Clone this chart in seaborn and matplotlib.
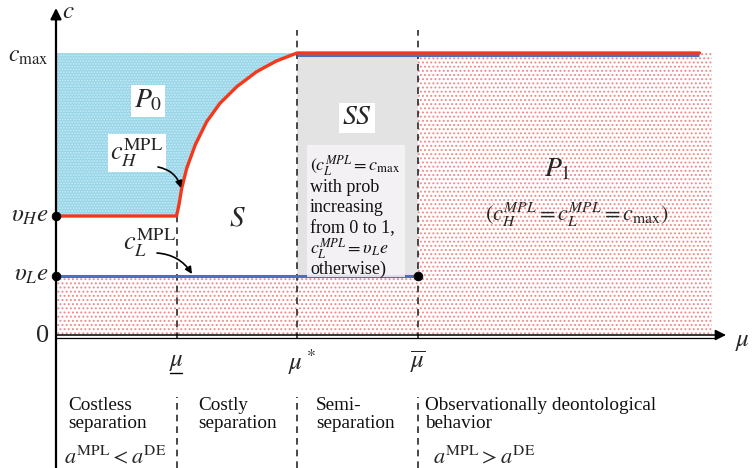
import matplotlib
matplotlib.use("Agg")
import matplotlib.pyplot as plt
import matplotlib.transforms as mtransforms
from matplotlib.patches import Rectangle
import seaborn as sns
import numpy as np

sns.set_theme(style="white")
plt.rcParams['font.family'] = ['Liberation Serif', 'DejaVu Serif']
plt.rcParams['mathtext.fontset'] = 'stix'
plt.rcParams['hatch.linewidth'] = 0.9

# ---------------- data ----------------
mu_thresholds = [1.0, 2.0, 3.0]          # mu_low, mu_star, mu_bar
mu_tick_labels = [r'$\mu$', r'$\mu^*$', r'$\overline{\mu}$']
vL_e = 0.212
vH_e = 0.424
c_max = 1.0
mu_line_end = 5.34
mu_region_end = 5.44
curve_mu = [1.0, 1.021, 1.043, 1.085, 1.155, 1.25, 1.36, 1.5, 1.665, 1.83, 2.0]
curve_c = [0.424, 0.465, 0.522, 0.593, 0.675, 0.757, 0.822, 0.881, 0.934, 0.972, 1.0]
dot_mu = [0.0, 0.0, 3.0]
dot_c = [vH_e, vL_e, vL_e]
regime_labels = ["Costless\nseparation", "Costly\nseparation", "Semi-\nseparation",
                 "Observationally deontological\nbehavior"]

RED = '#f4381c'
BLUE = '#4472c4'

# pixel -> data helper for layout
X0, Y0, SX, SY = 56.0, 336.0, 120.5, 283.0
def P(px, py):
    return ((px - X0) / SX, (Y0 - py) / SY)

fig = plt.figure(figsize=(7.53, 4.68), dpi=100)
ax = fig.add_axes([0, 0, 1, 1])
ax.set_xlim(-X0 / SX, (753 - X0) / SX)
ax.set_ylim((Y0 - 468) / SY, Y0 / SY)
ax.axis('off')

# ---------------- regions ----------------
p0_x = [0.0] + curve_mu
p0_lo = [vH_e] + curve_c
ax.fill_between(p0_x, p0_lo, c_max, facecolor='#98d5e8', edgecolor='#c9ecf6',
                hatch='......', linewidth=0, zorder=1)
ax.fill_between([0.0, mu_region_end], 0, vL_e, facecolor='white', edgecolor='#f08a8a',
                hatch='....', linewidth=0, zorder=1)
ax.fill_between([mu_thresholds[2], mu_region_end], vL_e, c_max, facecolor='white',
                edgecolor='#f08a8a', hatch='....', linewidth=0, zorder=1)
ax.fill_between([mu_thresholds[1], mu_thresholds[2]], vL_e, c_max,
                color='#e3e3e3', linewidth=0, zorder=1)

# ---------------- dashed guides ----------------
dash = dict(colors='#2a2a2a', linestyles=(0, (4, 3)), linewidth=1.2, zorder=2)
ax.vlines(mu_thresholds[0], -0.012, vH_e, **dash)
ax.vlines(mu_thresholds[1:], -0.012, 1.08, **dash)
ax.vlines(mu_thresholds, (Y0 - 468) / SY, P(0, 397)[1], **dash)

# ---------------- lines ----------------
cH_mu = [0.0] + curve_mu + [mu_line_end]
cH_c = [vH_e] + curve_c + [c_max]
off = mtransforms.offset_copy(ax.transData, fig=fig, x=0, y=-2, units='dots')
ax.plot([mu_thresholds[1], mu_line_end], [c_max, c_max], color=BLUE, lw=2.2,
        transform=off, zorder=3, solid_capstyle='butt')
sns.lineplot(x=cH_mu, y=cH_c, sort=False, estimator=None, color=RED, lw=2.4,
             ax=ax, zorder=4)
sns.lineplot(x=[0.0, mu_thresholds[2]], y=[vL_e, vL_e], sort=False, estimator=None,
             color=BLUE, lw=2.2, ax=ax, zorder=3)

# SS explanation box
bx0, by0 = P(307, 277)
bx1, by1 = P(405, 145)
ax.add_patch(Rectangle((bx0, by0), bx1 - bx0, by1 - by0, facecolor='#f6f4f6',
                       edgecolor='none', alpha=0.85, zorder=5))
ss_lines = [r'$(c_L^{MPL} = c_{\max}$', 'with prob', 'increasing', 'from 0 to 1,',
            r'$c_L^{MPL} = \upsilon_L e$', 'otherwise)']
ss_y = [166, 188, 208, 229, 249, 269]
for t, yy in zip(ss_lines, ss_y):
    ax.text(*P(310, yy), t, fontsize=13, ha='left', va='center', zorder=6,
            color='#111111')

# dots
sns.scatterplot(x=dot_mu, y=dot_c, color='black', s=40, ax=ax, zorder=7,
                edgecolor='black', legend=False)

# ---------------- axes arrows ----------------
ax.annotate('', xy=P(56, 8), xytext=P(56, 468),
            arrowprops=dict(arrowstyle='-|>', lw=1.6, color='black',
                            mutation_scale=16, shrinkA=0, shrinkB=0), zorder=8)
ax.annotate('', xy=P(726, 335), xytext=P(56, 335),
            arrowprops=dict(arrowstyle='-|>', lw=1.1, color='black',
                            mutation_scale=16, shrinkA=0, shrinkB=0), zorder=8)
ax.plot([P(56, 338)[0], P(715, 338)[0]], [P(56, 338)[1]] * 2, color='black',
        lw=0.9, zorder=8)

# axis labels
ax.text(*P(62, 12), r'$c$', fontsize=18, ha='left', va='center')
ax.text(*P(735, 342), r'$\mu$', fontsize=18, ha='left', va='center')
ax.text(*P(49, 57), r'$c_{\max}$', fontsize=17, ha='right', va='center')
ax.text(*P(49, 216), r'$\upsilon_H e$', fontsize=18, ha='right', va='center')
ax.text(*P(49, 275), r'$\upsilon_L e$', fontsize=18, ha='right', va='center')
ax.text(*P(49, 336), '0', fontsize=19, ha='right', va='center')

# mu tick labels
for m, lab in zip(mu_thresholds, mu_tick_labels):
    ax.text(m + (0.04 if lab == r'$\mu^*$' else 0.0), P(0, 362)[1], lab,
            fontsize=18, ha='center', va='center')
ax.plot([P(170, 0)[0], P(182, 0)[0]], [P(0, 373)[1]] * 2, color='black', lw=1.0)

# region labels
box = dict(facecolor='white', edgecolor='none', pad=2)
ax.text(*P(148, 101), r'$P_0$', fontsize=20, ha='center', va='center', bbox=box, zorder=6)
ax.text(*P(237, 218), r'$S$', fontsize=21, ha='center', va='center', zorder=6)
ax.text(*P(357, 118), r'$SS$', fontsize=20, ha='center', va='center', bbox=box, zorder=6)
ax.text(*P(557, 170), r'$P_1$', fontsize=20, ha='center', va='center', zorder=6)
ax.text(*P(577, 215), r'$(c_H^{MPL} = c_L^{MPL} = c_{\max})$', fontsize=16,
        ha='center', va='center', zorder=6)

# curve labels with arrows
ax.text(*P(137, 153), r'$c_H^{\mathrm{MPL}}$', fontsize=19, ha='center', va='center',
        bbox=box, zorder=6)
ax.annotate('', xy=P(181, 188), xytext=P(158, 167),
            arrowprops=dict(arrowstyle='-|>', lw=1.2, color='black', mutation_scale=10,
                            connectionstyle='arc3,rad=-0.3', shrinkA=0, shrinkB=0),
            zorder=6)
ax.text(*P(150, 243), r'$c_L^{\mathrm{MPL}}$', fontsize=19, ha='center', va='center',
        zorder=6)
ax.annotate('', xy=P(192, 274), xytext=P(157, 253),
            arrowprops=dict(arrowstyle='-|>', lw=1.2, color='black', mutation_scale=10,
                            connectionstyle='arc3,rad=-0.25', shrinkA=0, shrinkB=0),
            zorder=6)

# regime descriptions
reg_x = [68, 198, 316, 425]
for xx, t in zip(reg_x, regime_labels):
    ax.text(*P(xx, 397), t, fontsize=13.8, ha='left', va='top', linespacing=1.05,
            color='#111111')
ax.text(*P(64, 457), r'$a^{\mathrm{MPL}} < a^{\mathrm{DE}}$', fontsize=16,
        ha='left', va='center')
ax.text(*P(433, 457), r'$a^{\mathrm{MPL}} > a^{\mathrm{DE}}$', fontsize=16,
        ha='left', va='center')

fig.savefig('out.png', dpi=100)
